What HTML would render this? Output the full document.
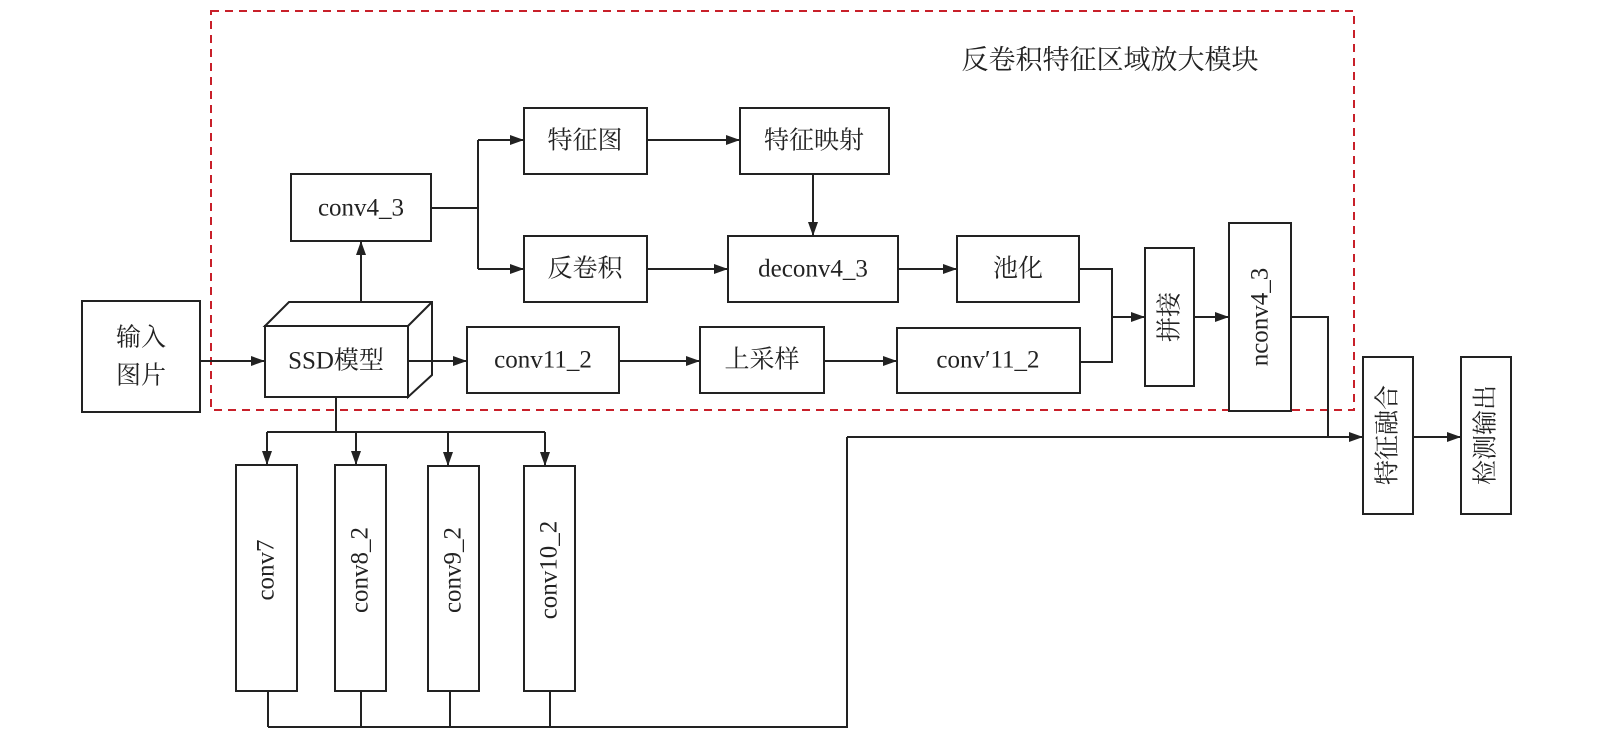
<!DOCTYPE html>
<html><head><meta charset="utf-8"><style>
html,body{margin:0;padding:0;background:#fff;}
svg{display:block;}
text{font-family:"Liberation Serif","Noto Serif CJK SC",serif;font-size:25px;fill:#222;text-anchor:middle;dominant-baseline:central;}
</style></head><body>
<svg width="1600" height="740" viewBox="0 0 1600 740" xmlns="http://www.w3.org/2000/svg">
<defs>
<marker id="a" markerWidth="10" markerHeight="8" refX="10" refY="4" orient="auto" markerUnits="userSpaceOnUse" viewBox="0 0 10 8">
<path d="M0,0 L10,4 L0,8 z" fill="#222"/></marker>
<marker id="b" markerWidth="14" markerHeight="10" refX="14" refY="5" orient="auto" markerUnits="userSpaceOnUse" viewBox="0 0 14 10">
<path d="M0,0 L14,5 L0,10 z" fill="#222"/></marker>
</defs>
<rect x="211" y="11" width="1143" height="399" fill="none" stroke="#c8202a" stroke-width="2" stroke-dasharray="8,6"/>
<text x="1110" y="60" style="font-size:27px">反卷积特征区域放大模块</text>
<g fill="#fff" stroke="#222" stroke-width="2">
<rect x="82" y="301" width="118" height="111"/>
<polygon points="265,326 289,302 432,302 432,375 408,397 408,326"/>
<line x1="408" y1="326" x2="432" y2="302"/>
<rect x="265" y="326" width="143" height="71"/>
<rect x="291" y="174" width="140" height="67"/>
<rect x="524" y="108" width="123" height="66"/>
<rect x="524" y="236" width="123" height="66"/>
<rect x="740" y="108" width="149" height="66"/>
<rect x="728" y="236" width="170" height="66"/>
<rect x="957" y="236" width="122" height="66"/>
<rect x="467" y="327" width="152" height="66"/>
<rect x="700" y="327" width="124" height="66"/>
<rect x="897" y="328" width="183" height="65"/>
<rect x="1145" y="248" width="49" height="138"/>
<rect x="1229" y="223" width="62" height="188"/>
<rect x="1363" y="357" width="50" height="157"/>
<rect x="1461" y="357" width="50" height="157"/>
<rect x="236" y="465" width="61" height="226"/>
<rect x="335" y="465" width="51" height="226"/>
<rect x="428" y="466" width="51" height="225"/>
<rect x="524" y="466" width="51" height="225"/>
</g>
<g fill="none" stroke="#222" stroke-width="2">
<line x1="200" y1="361" x2="265" y2="361" marker-end="url(#b)"/>
<line x1="361" y1="302" x2="361" y2="241" marker-end="url(#b)"/>
<polyline points="431,208 478,208"/>
<polyline points="478,140 478,269"/>
<line x1="478" y1="140" x2="524" y2="140" marker-end="url(#b)"/>
<line x1="478" y1="269" x2="524" y2="269" marker-end="url(#b)"/>
<line x1="647" y1="140" x2="740" y2="140" marker-end="url(#b)"/>
<line x1="647" y1="269" x2="728" y2="269" marker-end="url(#b)"/>
<line x1="813" y1="174" x2="813" y2="236" marker-end="url(#b)"/>
<line x1="898" y1="269" x2="957" y2="269" marker-end="url(#b)"/>
<line x1="408" y1="361" x2="467" y2="361" marker-end="url(#b)"/>
<line x1="619" y1="361" x2="700" y2="361" marker-end="url(#b)"/>
<line x1="824" y1="361" x2="897" y2="361" marker-end="url(#b)"/>
<polyline points="1079,269 1112,269 1112,362 1080,362"/>
<line x1="1112" y1="317" x2="1145" y2="317" marker-end="url(#b)"/>
<line x1="1194" y1="317" x2="1229" y2="317" marker-end="url(#b)"/>
<polyline points="1291,317 1328,317 1328,437"/>
<line x1="847" y1="437" x2="1363" y2="437" marker-end="url(#b)"/>
<line x1="1413" y1="437" x2="1461" y2="437" marker-end="url(#b)"/>
<polyline points="847,437 847,727 268,727"/>
<line x1="268" y1="691" x2="268" y2="727"/>
<line x1="361" y1="691" x2="361" y2="727"/>
<line x1="450" y1="691" x2="450" y2="727"/>
<line x1="550" y1="691" x2="550" y2="727"/>
<line x1="336" y1="397" x2="336" y2="432"/>
<line x1="267" y1="432" x2="545" y2="432"/>
<line x1="267" y1="432" x2="267" y2="465" marker-end="url(#b)"/>
<line x1="356" y1="432" x2="356" y2="465" marker-end="url(#b)"/>
<line x1="448" y1="432" x2="448" y2="466" marker-end="url(#b)"/>
<line x1="545" y1="432" x2="545" y2="466" marker-end="url(#b)"/>
</g>
<text x="141" y="338">输入</text>
<text x="141" y="376">图片</text>
<text x="336" y="361">SSD模型</text>
<text x="361" y="208">conv4_3</text>
<text x="585" y="141">特征图</text>
<text x="814" y="141">特征映射</text>
<text x="585" y="269">反卷积</text>
<text x="813" y="269">deconv4_3</text>
<text x="1018" y="269">池化</text>
<text x="543" y="360">conv11_2</text>
<text x="762" y="360">上采样</text>
<text x="988" y="360">conv′11_2</text>
<text transform="translate(1170,317) rotate(-90)">拼接</text>
<text transform="translate(1260,317) rotate(-90)">nconv4_3</text>
<text transform="translate(1388,435) rotate(-90)">特征融合</text>
<text transform="translate(1486,435) rotate(-90)">检测输出</text>
<text transform="translate(266,570) rotate(-90)">conv7</text>
<text transform="translate(360,570) rotate(-90)">conv8_2</text>
<text transform="translate(453,570) rotate(-90)">conv9_2</text>
<text transform="translate(549,570) rotate(-90)">conv10_2</text>
</svg>
</body></html>
